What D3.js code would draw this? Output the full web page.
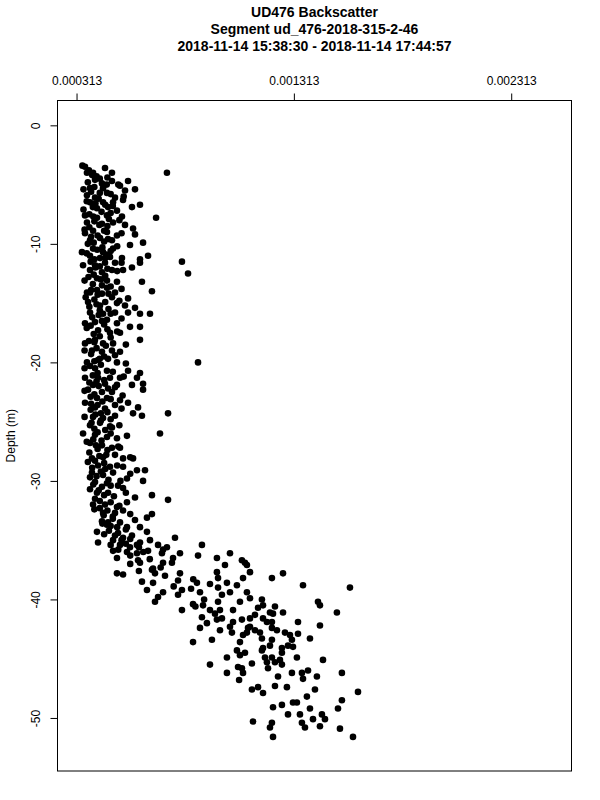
<!DOCTYPE html>
<html>
<head>
<meta charset="utf-8">
<script src="https://cdn.jsdelivr.net/npm/d3@7"></script>
<style>
  html, body { margin: 0; padding: 0; background: #fff; }
  svg { display: block; font-family: "Liberation Sans", Arial, Helvetica, sans-serif; }
</style>
</head>
<body>
<svg id="chart" width="600" height="800"></svg>
<script>
// ---- Titles / labels ----
const titleLines = [
  "UD476 Backscatter",
  "Segment ud_476-2018-315-2-46",
  "2018-11-14 15:38:30 - 2018-11-14 17:44:57"
];
const yAxisLabel = "Depth (m)";

// ---- Tick values ----
const xTicks = [0.000313, 0.001313, 0.002313];
const yTicks = [0, -10, -20, -30, -40, -50];

// ---- Axis limits (R style: data limits extended by 4%) ----
const xLimits = [0.000313, 0.0025028];
const yLimits = [-52.38, 0];

// ---- Samples: [depth (m), backscatter] ----
const upperBand = [
[-3.5,0.000352],[-4.0,0.000361],[-4.0,0.000389],[-3.6,0.000444],[-4.0,0.000476],[-4.0,0.000729],
[-4.6,0.000398],[-4.9,0.000430],[-4.7,0.000476],[-5.1,0.000513],[-4.7,0.000550],[-5.3,0.000375],
[-5.3,0.000435],[-5.5,0.000536],[-5.4,0.000582],[-5.9,0.000361],[-6.1,0.000398],[-5.7,0.000453],
[-6.1,0.000490],[-6.5,0.000375],[-6.5,0.000435],[-6.5,0.000481],[-6.3,0.000527],[-6.9,0.000568],
[-6.7,0.000605],[-7.0,0.000407],[-6.9,0.000458],[-7.2,0.000499],[-7.6,0.000352],[-7.8,0.000407],
[-7.6,0.000453],[-7.7,0.000522],[-7.8,0.000679],[-8.2,0.000361],[-8.3,0.000430],[-8.2,0.000481],
[-8.4,0.000536],[-8.7,0.000573],[-9.1,0.000352],[-8.9,0.000389],[-9.0,0.000453],[-9.3,0.000499],
[-9.2,0.000582],[-9.7,0.000375],[-9.5,0.000421],[-9.7,0.000476],[-10.1,0.000559],[-9.9,0.000619],
[-10.7,0.000338],[-10.4,0.000389],[-10.7,0.000435],[-10.4,0.000481],[-11.0,0.000375],[-11.2,0.000421],
[-11.1,0.000467],[-11.2,0.000522],[-11.3,0.000605],[-11.0,0.000642],[-11.8,0.000343],[-11.8,0.000398],
[-11.6,0.000444],[-11.6,0.000490],[-12.0,0.000568],[-11.6,0.000605],[-12.2,0.000375],[-12.4,0.000430],
[-12.2,0.000476],[-12.2,0.000527],[-12.9,0.000407],[-13.1,0.000453],[-13.2,0.000499],[-13.2,0.000614],
[-14.1,0.000361],[-13.9,0.000407],[-13.7,0.000453],[-14.1,0.000490],[-14.0,0.000660],[-11.5,0.000798],
[-12.5,0.000826]
];
const middleBand = [
[-14.1,0.000375],[-14.2,0.000430],[-14.5,0.000476],[-14.6,0.000550],[-14.9,0.000366],[-15.2,0.000421],
[-15.0,0.000499],[-15.2,0.000536],[-15.4,0.000582],[-15.8,0.000375],[-15.9,0.000435],[-15.8,0.000490],
[-15.8,0.000550],[-15.9,0.000605],[-15.9,0.000651],[-16.7,0.000352],[-16.6,0.000398],[-16.4,0.000453],
[-16.7,0.000499],[-17.0,0.000559],[-17.0,0.000605],[-17.3,0.000412],[-17.5,0.000467],[-17.5,0.000513],
[-18.4,0.000352],[-18.1,0.000398],[-18.4,0.000435],[-18.4,0.000481],[-18.1,0.000605],[-19.0,0.000384],
[-19.1,0.000430],[-19.0,0.000476],[-19.1,0.000513],[-20.0,0.000361],[-19.8,0.000412],[-19.7,0.000458],
[-20.0,0.000499],[-20.5,0.000398],[-20.7,0.000453],[-20.7,0.000550],[-20.9,0.000605],[-21.3,0.000352],
[-21.3,0.000412],[-21.3,0.000467],[-21.3,0.000513],[-21.3,0.000591],[-21.9,0.000389],[-21.8,0.000444],
[-21.9,0.000499],[-21.9,0.000568],[-21.8,0.000619],[-22.3,0.000366],[-22.5,0.000430],[-22.5,0.000476],
[-22.3,0.000619],[-23.0,0.000407],[-23.0,0.000453],[-23.2,0.000513],[-23.4,0.000352],[-23.8,0.000398],
[-23.9,0.000444],[-23.6,0.000490],[-23.4,0.000550],[-23.8,0.000596],[-24.3,0.000573],[-24.5,0.000614],
[-24.3,0.000734],[-24.6,0.000389],[-24.7,0.000435],[-24.5,0.000490],[-25.3,0.000375],[-25.1,0.000421],
[-25.4,0.000467],[-20.0,0.000872],
[-25.5,0.000476],[-26.0,0.000697],[-26.0,0.000343],[-26.1,0.000398],[-26.3,0.000453],[-26.4,0.000499],
[-26.8,0.000375],[-27.0,0.000430],[-27.2,0.000476],[-27.2,0.000513],[-28.1,0.000384],[-28.0,0.000435],
[-27.8,0.000490],[-28.1,0.000527],[-28.1,0.000573],[-28.7,0.000412],[-28.8,0.000467],[-28.8,0.000527],
[-29.1,0.000591],[-29.1,0.000628],[-29.3,0.000384],[-29.5,0.000435],[-29.3,0.000481],[-29.8,0.000545],
[-30.0,0.000619],[-30.1,0.000398],[-30.2,0.000453],[-30.4,0.000504],[-30.6,0.000527],[-31.0,0.000407],
[-31.0,0.000458],[-31.4,0.000582],[-31.2,0.000660],[-31.6,0.000734],[-32.0,0.000389],[-32.0,0.000444],
[-32.2,0.000499],[-31.8,0.000545],[-32.7,0.000435],[-32.7,0.000490],[-32.5,0.000527],[-33.5,0.000458],
[-33.5,0.000513],[-33.3,0.000582],[-33.1,0.000637],[-32.8,0.000660],[-33.7,0.000453],[-33.9,0.000545],
[-33.9,0.000605],[-34.3,0.000407],[-34.4,0.000504],[-34.6,0.000568],[-34.3,0.000637]
];
const coreBand = [
[-3.8,0.000370],[-4.3,0.000405],[-4.5,0.000420],[-4.8,0.000365],[-5.0,0.000452],[-5.2,0.000395],
[-5.6,0.000380],[-5.8,0.000470],[-6.2,0.000415],[-6.4,0.000360],[-6.7,0.000445],[-6.9,0.000388],
[-7.3,0.000428],[-7.5,0.000372],[-7.9,0.000462],[-8.1,0.000395],[-8.4,0.000418],[-8.6,0.000372],
[-8.9,0.000440],[-9.3,0.000410],[-9.6,0.000458],[-9.9,0.000392],[-10.0,0.000365],[-10.3,0.000432],
[-10.5,0.000408],[-10.9,0.000450],[-11.3,0.000395],[-11.5,0.000378],[-11.9,0.000420],[-12.1,0.000455],
[-12.6,0.000392],[-12.8,0.000368],[-13.0,0.000425],[-13.4,0.000388],[-13.6,0.000470],[-13.9,0.000380],
[-14.3,0.000410],[-14.7,0.000395],[-14.9,0.000445],[-15.3,0.000372],[-15.5,0.000460],[-16.0,0.000415],
[-16.2,0.000385],[-16.5,0.000430],[-16.9,0.000378],[-17.2,0.000455],[-17.6,0.000392],[-17.8,0.000420],
[-18.2,0.000370],[-18.6,0.000448],[-18.8,0.000405],[-19.3,0.000380],[-19.5,0.000440],[-19.9,0.000395],
[-20.2,0.000425],[-20.3,0.000375],[-20.9,0.000410],[-21.1,0.000388],[-21.5,0.000440],[-21.7,0.000372],
[-22.0,0.000415],[-22.2,0.000458],[-22.7,0.000395],[-22.9,0.000378],[-23.3,0.000432],[-23.6,0.000410],
[-24.0,0.000378],[-24.2,0.000455],[-24.4,0.000400],[-24.9,0.000425],[-25.1,0.000382],[-25.7,0.000445],
[-25.9,0.000410],[-26.5,0.000390],[-26.6,0.000428],[-27.0,0.000402],[-27.4,0.000455],[-27.6,0.000372],
[-27.9,0.000418],[-28.3,0.000398],[-28.5,0.000440],[-28.9,0.000385],[-29.2,0.000425],[-29.6,0.000405],
[-29.9,0.000460],[-30.3,0.000390],[-30.5,0.000430],[-30.8,0.000415],[-31.2,0.000440],[-31.5,0.000398],
[-31.8,0.000470],[-32.3,0.000420],[-32.5,0.000455],[-32.9,0.000438],[-33.2,0.000480],[-33.6,0.000432],
[-33.9,0.000500],[-34.2,0.000462],[-34.6,0.000490],[-35.0,0.000520],[-35.4,0.000470],[-35.8,0.000505]
];
const coreBand2 = [
[-3.4,0.000340],[-4.2,0.000385],[-4.4,0.000455],[-5.0,0.000505],[-5.4,0.000345],[-5.7,0.000420],
[-6.0,0.000530],[-6.6,0.000400],[-6.8,0.000480],[-7.1,0.000345],[-7.4,0.000470],[-7.7,0.000390],
[-8.0,0.000510],[-8.5,0.000455],[-8.8,0.000350],[-9.1,0.000520],[-9.4,0.000380],[-9.8,0.000440],
[-10.2,0.000500],[-10.6,0.000470],[-10.8,0.000360],[-11.2,0.000445],[-11.6,0.000520],[-12.0,0.000400],
[-12.3,0.000500],[-12.7,0.000445],[-13.1,0.000350],[-13.5,0.000430],[-13.8,0.000520],[-14.2,0.000460],
[-14.5,0.000355],[-14.8,0.000510],[-15.1,0.000405],[-15.6,0.000420],[-15.9,0.000470],[-16.3,0.000520],
[-16.8,0.000440],[-17.1,0.000360],[-17.4,0.000500],[-17.9,0.000470],[-18.3,0.000395],[-18.5,0.000540],
[-19.0,0.000350],[-19.4,0.000490],[-19.7,0.000420],[-20.1,0.000540],[-20.5,0.000350],[-20.8,0.000480],
[-21.2,0.000530],[-21.6,0.000405],[-22.1,0.000490],[-22.4,0.000350],[-22.8,0.000525],[-23.1,0.000470],
[-23.5,0.000380],[-23.9,0.000520],[-24.3,0.000425],[-24.6,0.000350],[-24.8,0.000470],[-25.3,0.000510],
[-25.6,0.000395],[-26.0,0.000470],[-26.2,0.000545],[-26.7,0.000360],[-27.1,0.000505],[-27.3,0.000410],
[-27.8,0.000450],[-28.0,0.000560],[-28.4,0.000365],[-28.7,0.000500],[-29.0,0.000445],[-29.4,0.000560],
[-29.7,0.000375],[-30.0,0.000515],[-30.4,0.000470],[-30.7,0.000375],[-31.0,0.000540],[-31.3,0.000485],
[-31.7,0.000420],[-32.1,0.000510],[-32.4,0.000395],[-32.8,0.000560],[-33.0,0.000480],[-33.4,0.000430],
[-33.8,0.000470],[-34.1,0.000540],[-34.5,0.000440],[-34.9,0.000560],[-35.3,0.000540],[-35.6,0.000600],
[-36.0,0.000620],[-36.3,0.000560],[-36.6,0.000650],[-37.0,0.000560],[-37.3,0.000700],[-37.6,0.000600],
[-38.0,0.000720],[-38.3,0.000850],[-38.9,0.000760],[-39.1,0.000840],[-39.6,0.000780],[-40.0,0.000900],
[-40.6,0.000860],[-41.2,0.000950]
];
const transitionZone = [
[-35.0,0.000481],[-34.8,0.000527],[-35.2,0.000605],[-35.0,0.000651],[-34.8,0.000766],[-35.2,0.000412],
[-35.4,0.000513],[-35.6,0.000559],[-35.4,0.000688],[-35.8,0.000711],[-35.9,0.000481],[-36.0,0.000545],
[-36.1,0.000591],[-35.9,0.000642],[-36.1,0.000789],[-36.5,0.000499],[-36.7,0.000596],[-36.9,0.000711],
[-36.5,0.000757],[-35.4,0.000591],[-35.6,0.000729],[-35.4,0.000890],[-36.3,0.000872],[-36.1,0.001019],
[-36.9,0.000752],[-36.9,0.000605],[-36.5,0.000959],[-36.7,0.001074],[-37.1,0.001097],[-37.1,0.000996],
[-37.4,0.000665],[-37.8,0.000789],[-37.7,0.000959],[-37.8,0.000674],[-38.2,0.001079],[-38.2,0.000964],
[-38.5,0.000614],[-38.6,0.000665],[-38.6,0.000867],[-38.7,0.000927],[-38.6,0.001005],[-38.8,0.001051],
[-39.2,0.000637],[-39.4,0.000711],[-39.2,0.000798],[-39.4,0.000881],[-39.0,0.000964],[-39.4,0.001019],
[-39.4,0.001097],[-39.8,0.000688],[-39.6,0.000982],[-39.9,0.001111],[-40.2,0.000674],[-40.2,0.001065],
[-40.4,0.000849],[-40.5,0.000895],[-40.2,0.000964],[-40.9,0.000798],[-40.9,0.000927],[-40.9,0.000973],
[-40.9,0.001033],[-41.5,0.000890],[-41.6,0.000982],[-41.6,0.001111],[-42.0,0.000913],[-41.9,0.001033],
[-41.7,0.001074],[-42.4,0.000881],[-42.3,0.001019],[-42.4,0.001102],[-43.4,0.000936],[-43.6,0.000849],
[-43.6,0.001065],[-37.8,0.000499],[-37.9,0.000527],[-37.5,0.000660],[-38.4,0.000780],[-36.1,0.000706]
];
const lowerCloud = [
[-36.9,0.001088],[-37.7,0.001111],[-38.2,0.001212],[-37.8,0.001263],[-38.8,0.001355],[-39.0,0.001571],
[-40.0,0.001166],[-40.5,0.001171],[-40.6,0.001226],[-41.1,0.001263],[-40.7,0.001148],[-41.3,0.001134],
[-41.2,0.001217],[-40.2,0.001424],[-40.5,0.001433],[-41.1,0.001511],[-41.9,0.001189],[-41.9,0.001212],
[-41.9,0.001332],[-42.2,0.001433],[-42.3,0.001111],[-42.8,0.001097],[-42.6,0.001134],[-42.8,0.001157],
[-42.4,0.001212],[-42.6,0.001235],[-42.8,0.001272],[-43.0,0.001295],[-42.9,0.001332],[-43.3,0.001166],
[-43.4,0.001212],[-43.4,0.001304],[-43.3,0.001387],[-43.9,0.001203],[-43.9,0.001286],[-44.0,0.001309],
[-44.1,0.001171],[-44.1,0.001258],[-44.5,0.001088],[-44.3,0.001166],[-44.5,0.001258],[-44.9,0.001212],
[-44.9,0.001180],[-44.9,0.001327],[-45.1,0.001447],[-45.4,0.001120],[-45.3,0.001189],[-45.3,0.001226],
[-45.5,0.001258],[-45.1,0.001249],[-45.8,0.001074],[-45.8,0.001194],[-46.2,0.001304],[-46.2,0.001350],
[-46.0,0.001378],[-46.2,0.001534],[-46.5,0.001419],[-46.7,0.001355],[-46.5,0.001240],[-47.3,0.001226],
[-47.4,0.001281],[-47.6,0.001120],[-47.4,0.001148],[-47.9,0.001171],[-47.6,0.001410],[-47.8,0.001608],
[-48.2,0.001373],[-48.7,0.001309],[-48.7,0.001327],[-48.5,0.001534],[-49.1,0.001217],[-48.9,0.001258],
[-49.2,0.001387],[-49.2,0.001516],[-49.7,0.001286],[-49.7,0.001341],[-49.7,0.001442],[-50.1,0.001401],
[-50.1,0.001456],[-50.3,0.001125],[-50.4,0.001350],[-50.4,0.001212],[-50.8,0.001203],[-50.7,0.001433],
[-50.8,0.001364],[-50.9,0.001525],[-51.6,0.001217],[-51.6,0.001585],
[-45.5,0.000927],[-46.2,0.001005],[-44.9,0.001005],[-44.3,0.001051],[-44.7,0.001065],[-45.7,0.001056],
[-46.2,0.001079],[-46.8,0.001061],[-41.7,0.000959],[-42.6,0.000973],[-42.8,0.001028],[-43.0,0.001079],
[-41.6,0.001171],[-41.1,0.001203]
];

const samples = [].concat(upperBand, middleBand, coreBand, coreBand2, transitionZone, lowerCloud);

// ---- Layout ----
const W = 600, H = 800;
const plot = { left: 57.5, right: 571.5, top: 100.5, bottom: 771 };

function extend(lim) {
  const r = lim[1] - lim[0];
  return [lim[0] - 0.04 * r, lim[1] + 0.04 * r];
}

const x = d3.scaleLinear().domain(extend(xLimits)).range([plot.left, plot.right]);
const y = d3.scaleLinear().domain(extend(yLimits)).range([plot.bottom, plot.top]);

const svg = d3.select("#chart");

// Title
svg.append("g").selectAll("text").data(titleLines).join("text")
  .attr("x", (plot.left + plot.right) / 2)
  .attr("y", (d, i) => 17 + i * 17)
  .attr("text-anchor", "middle")
  .attr("font-size", 14)
  .attr("font-weight", "bold")
  .attr("fill", "#000")
  .text(d => d);

// Points
svg.append("g").selectAll("circle").data(samples).join("circle")
  .attr("cx", d => x(d[1]))
  .attr("cy", d => y(d[0]))
  .attr("r", 3.3)
  .attr("fill", "#000");

// Box
svg.append("rect")
  .attr("x", plot.left).attr("y", plot.top)
  .attr("width", plot.right - plot.left).attr("height", plot.bottom - plot.top)
  .attr("fill", "none").attr("stroke", "#000").attr("stroke-width", 1);

// Top axis
const gx = svg.append("g").attr("transform", `translate(0,${plot.top})`)
  .call(d3.axisTop(x).tickValues(xTicks).tickFormat(d3.format(".6f"))
    .tickSize(7).tickPadding(8.5).tickSizeOuter(0));
gx.select(".domain").remove();
gx.selectAll("text").attr("font-size", 12).attr("font-family", "Liberation Sans, Arial, sans-serif");

// Left axis
const gy = svg.append("g").attr("transform", `translate(${plot.left},0)`)
  .call(d3.axisLeft(y).tickValues(yTicks).tickFormat(d => String(d))
    .tickSize(7).tickSizeOuter(0));
gy.select(".domain").remove();
gy.selectAll("text")
  .attr("font-size", 12)
  .attr("font-family", "Liberation Sans, Arial, sans-serif")
  .attr("text-anchor", "middle")
  .attr("transform", "rotate(-90)")
  .attr("x", 0)
  .attr("y", -17.5)
  .attr("dy", "0");

// Y label
svg.append("text")
  .attr("transform", `translate(14.5,${(plot.top + plot.bottom) / 2}) rotate(-90)`)
  .attr("text-anchor", "middle")
  .attr("font-size", 12)
  .attr("fill", "#000")
  .text(yAxisLabel);
</script>
</body>
</html>
